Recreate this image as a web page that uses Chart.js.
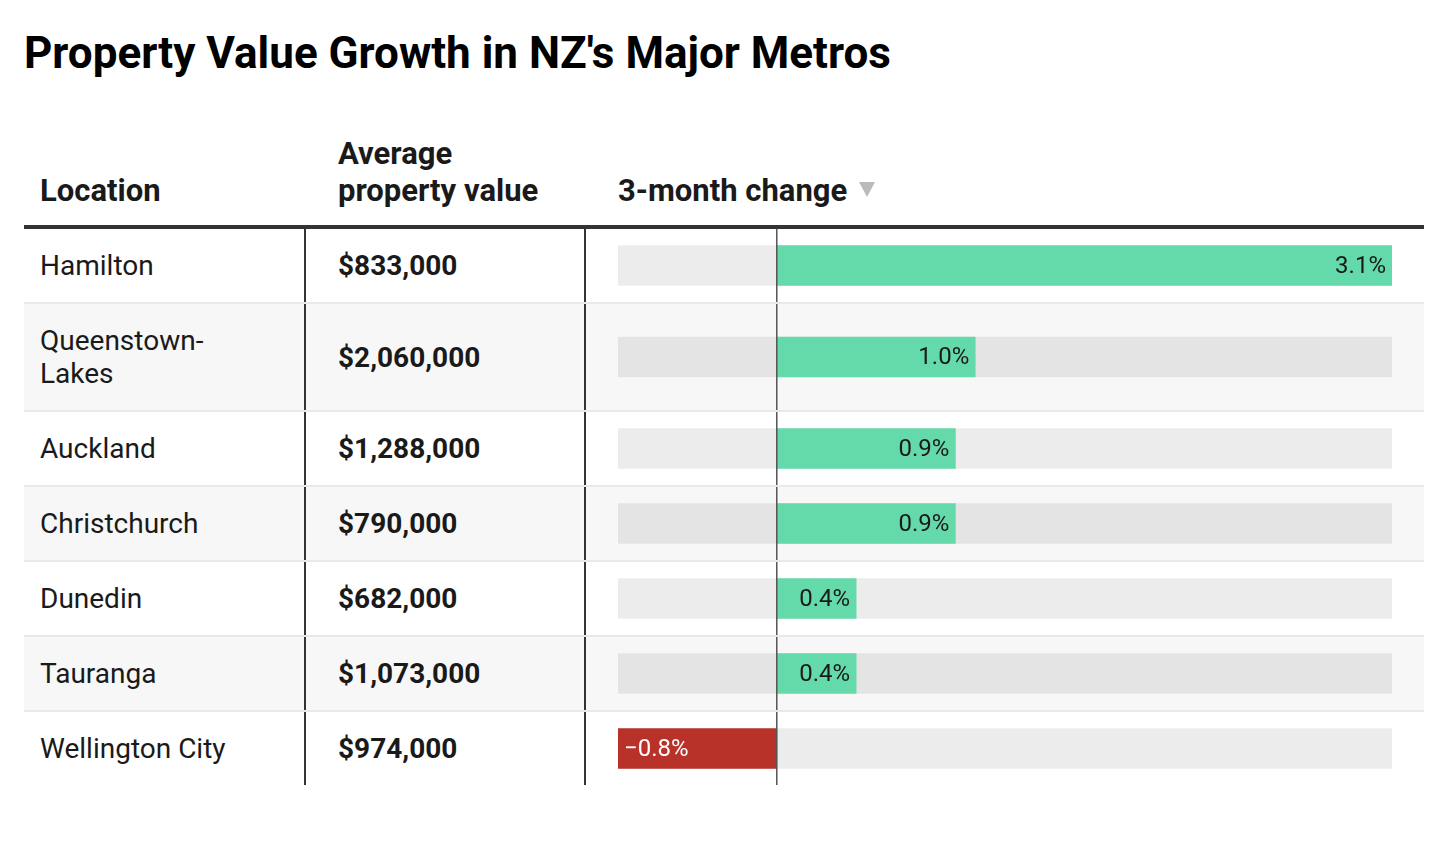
<!DOCTYPE html>
<html>
<head>
<meta charset="utf-8">
<script src="https://cdn.jsdelivr.net/npm/chart.js@4"></script>
<style>
  body { margin: 0; background: #fff; font-family: Roboto, sans-serif; color: #1a1a1a; }
  #wrap { position: absolute; left: 24px; top: 0; width: 1400px; }
  h1 { margin: 0; padding-top: 29px; font-size: 44px; line-height: 48px; font-weight: 700; color: #000; }
  .row { display: flex; }
  .row + .row { border-top: 2px solid #e9e9e9; }
  .row.alt { background: #f7f7f7; }
  .cell { box-sizing: border-box; font-size: 28px; line-height: 33px; padding: 20px 0; }
  .c1 { width: 282px; padding-left: 16px; padding-right: 40px; border-right: 2px solid #333; }
  .c2 { width: 280px; padding-left: 32px; border-right: 2px solid #333; font-weight: 700;
        display: flex; align-items: center; }
  .c3 { flex: 1; position: relative; }
  .head .cell { font-weight: 700; height: 152px; line-height: 37px; padding: 0 0 16px; border-right: none;
                border-bottom: 4px solid #333; display: flex; align-items: flex-end; font-size: 31px; }
  .head .c1 { padding-left: 16px; }
  .head .c2, .head .c3 { padding-left: 32px; }
  .head .tri { display: inline-block; width: 0; height: 0; margin-left: 12px; margin-bottom: 12px;
               border-left: 8.5px solid transparent; border-right: 8.5px solid transparent;
               border-top: 15px solid #bbb; }
  .chartbox { position: absolute; left: 0; top: 0; right: 0; bottom: 0; }
</style>
</head>
<body>
<div id="wrap">
  <h1>Property Value Growth in NZ's Major Metros</h1>
  <div class="row head">
    <div class="cell c1">Location</div>
    <div class="cell c2">Average<br>property value</div>
    <div class="cell c3">3-month change<span class="tri"></span></div>
  </div>
  <div id="body"></div>
</div>
<script>
var locations = ["Hamilton", "Queenstown-Lakes", "Auckland", "Christchurch", "Dunedin", "Tauranga", "Wellington City"];
var avgValues = [833000, 2060000, 1288000, 790000, 682000, 1073000, 974000];
var changes = [3.1, 1.0, 0.9, 0.9, 0.4, 0.4, -0.8];

var GREEN = "#64d9aa";
var RED = "#b8322a";
var lo = Math.min.apply(null, changes);
var hi = Math.max.apply(null, changes);

function fmtPct(v) {
  return (v < 0 ? "\u2212" : "") + Math.abs(v).toFixed(1) + "%";
}

// zero line + value label
var rowPlugin = {
  id: "rowPlugin",
  afterDatasetsDraw: function(chart) {
    var ctx = chart.ctx;
    var x0 = chart.scales.x.getPixelForValue(0);
    ctx.save();
    ctx.strokeStyle = "#555";
    ctx.lineWidth = 1.5;
    ctx.beginPath();
    ctx.moveTo(x0, 0);
    ctx.lineTo(x0, chart.height);
    ctx.stroke();

    var bar = chart.getDatasetMeta(0).data[0];
    var v = chart.data.datasets[0].data[0];
    ctx.font = "24px Roboto";
    ctx.textBaseline = "middle";
    if (v >= 0) {
      ctx.fillStyle = "#1a1a1a";
      ctx.textAlign = "right";
      ctx.fillText(fmtPct(v), bar.x - 6, bar.y + 1);
    } else {
      ctx.fillStyle = "#fff";
      ctx.textAlign = "left";
      ctx.fillText(fmtPct(v), bar.x + 6, bar.y + 1);
    }
    ctx.restore();
  }
};

var body = document.getElementById("body");
locations.forEach(function(loc, i) {
  var row = document.createElement("div");
  row.className = "row" + (i % 2 == 1 ? " alt" : "");
  row.innerHTML = '<div class="cell c1">' + loc + '</div>' +
    '<div class="cell c2">$' + avgValues[i].toLocaleString("en-US") + '</div>' +
    '<div class="cell c3"><div class="chartbox"><canvas></canvas></div></div>';
  body.appendChild(row);

  var v = changes[i];
  new Chart(row.querySelector("canvas"), {
    type: "bar",
    data: {
      labels: [loc],
      datasets: [
        { data: [v], backgroundColor: v >= 0 ? GREEN : RED, barThickness: 40, grouped: false, order: 1 },
        { data: [[lo, hi]], backgroundColor: "rgba(0,0,0,0.075)", barThickness: 40, grouped: false, order: 2 }
      ]
    },
    options: {
      indexAxis: "y",
      responsive: true,
      maintainAspectRatio: false,
      animation: false,
      layout: { padding: { left: 32, right: 32, top: 0, bottom: 0 } },
      scales: {
        x: { display: false, min: lo, max: hi },
        y: { display: false }
      },
      plugins: { legend: { display: false }, tooltip: { enabled: false } }
    },
    plugins: [rowPlugin]
  });
});
</script>
</body>
</html>
